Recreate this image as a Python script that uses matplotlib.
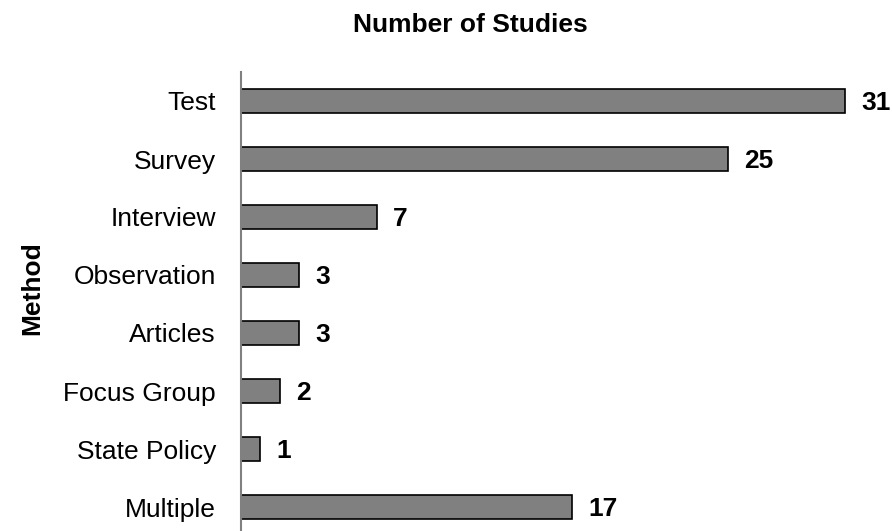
import matplotlib
matplotlib.use("Agg")
import matplotlib.pyplot as plt

categories = ["Test", "Survey", "Interview", "Observation", "Articles",
              "Focus Group", "State Policy", "Multiple"]
values = [31, 25, 7, 3, 3, 2, 1, 17]

plt.rcParams['font.family'] = ['Liberation Sans', 'DejaVu Sans']

fig = plt.figure(figsize=(8.92, 5.31), dpi=100)
ax = fig.add_axes([241/892, -5/531, (892-241)/892 + 0.05, 1 - 72/531 + 5/531])

y = list(range(len(categories)))
ax.barh(y, values, height=0.4, color="#808080", edgecolor="black", linewidth=1.2)
ax.set_ylim(len(categories) - 0.5, -0.5)
ax.set_xlim(0, 651/19.48 + 0.05 * 892 / 19.48)

for yi, v in zip(y, values):
    ax.annotate(str(v), xy=(v, yi), xytext=(16, 0), textcoords="offset pixels",
                ha="left", va="center_baseline", fontsize=19, fontweight="bold")

ax.set_yticks(y)
ax.set_yticklabels(categories, fontsize=19)
for lbl in ax.get_yticklabels():
    lbl.set_verticalalignment("center_baseline")
ax.tick_params(axis='y', length=0, pad=18)
ax.set_xticks([])
for s in ["top", "right", "bottom"]:
    ax.spines[s].set_visible(False)
ax.spines["left"].set_color("#808080")
ax.spines["left"].set_linewidth(1.5)

fig.text(470/892, 1 - 25/531, "Number of Studies", ha="center", va="center",
         fontsize=19, fontweight="bold")
fig.text(32/892, 1 - 288/531, "Method", ha="center", va="center",
         rotation=90, fontsize=19, fontweight="bold")

fig.savefig("out.png", dpi=100)
